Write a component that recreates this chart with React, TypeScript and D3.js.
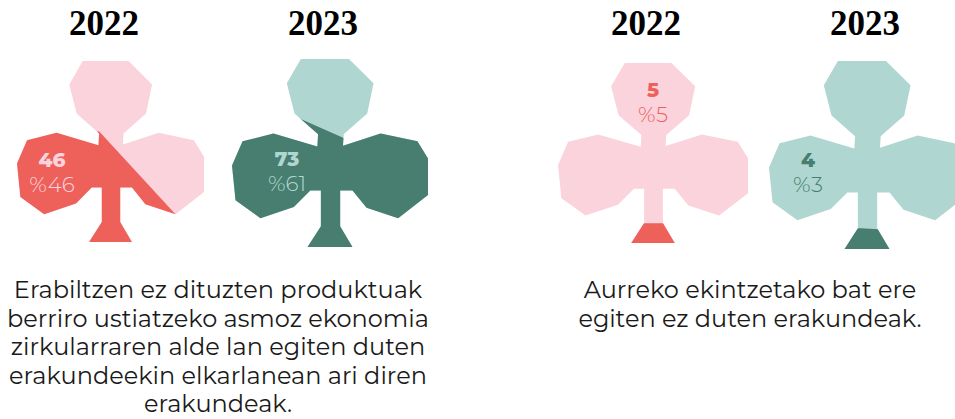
import React, { useId } from "react";
import * as d3 from "d3";

const years = ["2022", "2023", "2022", "2023"];
const counts = [46, 73, 5, 4];
const percents = ["%46", "%61", "%5", "%3"];
const captions = [
  ["Erabiltzen ez dituzten produktuak", "berriro ustiatzeko asmoz ekonomia", "zirkularraren alde lan egiten duten", "erakundeekin elkarlanean ari diren", "erakundeak."],
  ["Aurreko ekintzetako bat ere", "egiten ez duten erakundeak."],
];
const captionCenters = [218, 750];

// The club glyph outline, in a 0..1 box
const clubRaw: [number, number][] = [
  [196,0],[333,0],[403,70],[385,157],[318,217],[316,250],[423,215],[528,237],[558,287],[558,392],[473,459],[383,429],[343,379],[308,379],[308,482],[343,542],[215,542],[253,482],[253,379],[223,379],[176,427],[81,459],[10,407],[0,307],[30,237],[118,215],[243,252],[245,217],[178,157],[156,70],
];
const club: [number, number][] = clubRaw.map(([x, y]) => [x / 558, y / 542]);

// Fill region per glyph (everything under the drawn edge), in the same box
const fillEdges: [number, number][][] = [
  [[0.44, 0.39], [0.85, 0.85], [1.2, 1.2], [-0.2, 1.2], [-0.2, 0.39]],
  [[0.31, 0.30], [0.57, 0.42], [0.62, 0.39], [1.2, 0.37], [1.2, 1.2], [-0.2, 1.2], [-0.2, 0.30]],
  [[-0.2, 0.89], [1.2, 0.89], [1.2, 1.2], [-0.2, 1.2]],
  [[-0.2, 0.89], [0.47, 0.89], [0.56, 0.895], [1.2, 0.895], [1.2, 1.2], [-0.2, 1.2]],
];

const boxes = [
  { x: 17, y: 61, w: 187, h: 181 },
  { x: 232, y: 59, w: 196, h: 188 },
  { x: 558, y: 63, w: 190, h: 180 },
  { x: 769, y: 61, w: 196, h: 188 },
];
const titleX = [104, 323, 646, 865];
const labelPos = [[52, 167], [287, 166], [653, 97], [808, 167]];
const palettes = [
  { light: "#fbd3dc", dark: "#ee615b", big: "#fbd3dc", small: "#fbd3dc" },
  { light: "#b0d6d1", dark: "#477e6f", big: "#b0d6d1", small: "#b0d6d1" },
  { light: "#fbd3dc", dark: "#ee615b", big: "#ee615b", small: "#ee615b" },
  { light: "#b0d6d1", dark: "#477e6f", big: "#477e6f", small: "#477e6f" },
];
const bodyFont = "Montserrat, Inter, 'Open Sans', sans-serif";

function Club({ i }: { i: number }) {
  const id = useId();
  const b = boxes[i];
  const x = d3.scaleLinear().domain([0, 1]).range([b.x, b.x + b.w]);
  const y = d3.scaleLinear().domain([0, 1]).range([b.y, b.y + b.h]);
  const line = d3.line<[number, number]>().x((d) => x(d[0])).y((d) => y(d[1])).curve(d3.curveLinearClosed);
  const p = palettes[i];
  return (
    <g>
      <clipPath id={id}>
        <path d={line(club)!} />
      </clipPath>
      <path d={line(club)!} fill={p.light} />
      <path d={line(fillEdges[i])!} fill={p.dark} clipPath={`url(#${id})`} />
      <text x={labelPos[i][0]} y={labelPos[i][1]} textAnchor="middle" fontFamily={bodyFont} fontWeight={800} fontSize={20} fill={p.big}>{counts[i]}</text>
      <text x={labelPos[i][0]} y={labelPos[i][1] + 24.5} textAnchor="middle" fontFamily={bodyFont} fontWeight={300} fontSize={21.5} fill={p.small}>{percents[i]}</text>
      <text x={titleX[i]} y={35} textAnchor="middle" fontFamily="'Liberation Serif', serif" fontWeight={700} fontSize={35} fill="#000">{years[i]}</text>
    </g>
  );
}

export default function App() {
  return (
    <svg width={955} height={419} style={{ position: "absolute", left: 0, top: 0, background: "#fff" }}>
      {years.map((_, i) => <Club key={i} i={i} />)}
      {captions.map((lines, c) => (
        <text key={c} textAnchor="middle" fontFamily={bodyFont} fontSize={24} fill="#1a1a1a">
          {lines.map((l, j) => (
            <tspan key={j} x={captionCenters[c]} y={298 + j * 28.5}>{l}</tspan>
          ))}
        </text>
      ))}
    </svg>
  );
}
